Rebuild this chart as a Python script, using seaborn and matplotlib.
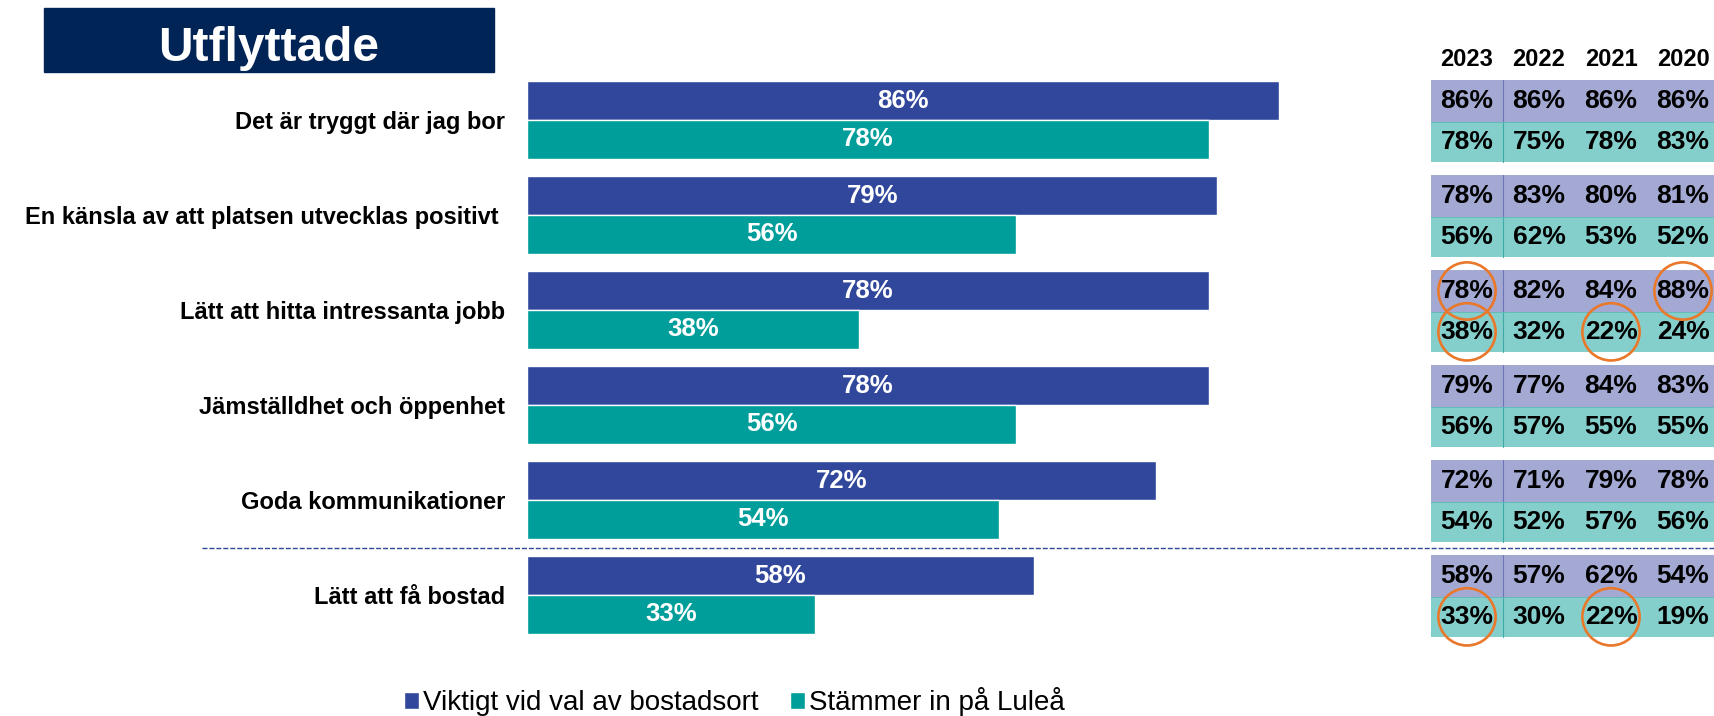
import pandas as pd
import matplotlib.pyplot as plt
import seaborn as sns

categories = [
    "Det är tryggt där jag bor",
    "En känsla av att platsen utvecklas positivt ",
    "Lätt att hitta intressanta jobb",
    "Jämställdhet och öppenhet",
    "Goda kommunikationer",
    "Lätt att få bostad",
]
series = ["Viktigt vid val av bostadsort", "Stämmer in på Luleå"]
viktigt = [86, 79, 78, 78, 72, 58]
stammer = [78, 56, 38, 56, 54, 33]

years = ["2023", "2022", "2021", "2020"]
# table: one list per year, 6 groups
tab_viktigt = {
    "2023": [86, 78, 78, 79, 72, 58],
    "2022": [86, 83, 82, 77, 71, 57],
    "2021": [86, 80, 84, 84, 79, 62],
    "2020": [86, 81, 88, 83, 78, 54],
}
tab_stammer = {
    "2023": [78, 56, 38, 56, 54, 33],
    "2022": [75, 62, 32, 57, 52, 30],
    "2021": [78, 53, 22, 55, 57, 22],
    "2020": [83, 52, 24, 55, 56, 19],
}
# circled cells: (group, series index, year)
circled = [(2, 0, "2023"), (2, 0, "2020"), (2, 1, "2023"), (2, 1, "2021"),
           (5, 1, "2023"), (5, 1, "2021")]

blue = "#31479C"
teal = "#009E9A"
navy = "#002456"
blue_light = "#A3A9D3"
teal_light = "#84CFCC"
orange = "#E9782A"

sns.set_style("white")
plt.rcParams["font.family"] = ["Liberation Sans", "DejaVu Sans"]
plt.rcParams["text.color"] = "black"
plt.rcParams["ytick.labelcolor"] = "black"

W, H = 1715, 716
fig = plt.figure(figsize=(W / 100, H / 100), dpi=100)

df = pd.DataFrame({
    "Kategori": categories * 2,
    "Serie": [series[0]] * 6 + [series[1]] * 6,
    "Andel": viktigt + stammer,
})

# y data coords: group i centred at pixel 120 + 95*i
y_top = (0 - 120) / 95
y_bot = (H - 120) / 95

ax = fig.add_axes([527 / W, 0, 874 / W, 1])
sns.barplot(data=df, y="Kategori", x="Andel", hue="Serie", orient="h",
            palette=[blue, teal], width=0.82, saturation=1, ax=ax)
ax.set_xlim(0, 100)
ax.set_ylim(y_bot, y_top)
ax.set_xlabel("")
ax.set_ylabel("")
ax.set_xticks([])
ax.set_yticks(range(len(categories)))
ax.set_yticklabels(categories, fontsize=17, fontweight="bold", color="black")
ax.tick_params(axis="y", length=0, pad=15.8)
sns.despine(ax=ax, left=True, bottom=True)

for cont, vals in zip(ax.containers, [viktigt, stammer]):
    ax.bar_label(cont, labels=[f"{v}%" for v in vals], label_type="center",
                 color="white", fontsize=18.5, fontweight="bold")

handles, labels = ax.get_legend_handles_labels()
ax.get_legend().remove()

# dashed separator before the last group
ax.plot([(202 - 527) / 8.74, (W - 527) / 8.74], [4.5, 4.5], color=blue,
        lw=1.0, ls=(0, (3.6, 1.4)), clip_on=False)

# title box
fig.patches.append(plt.Rectangle((44 / W, 1 - 72 / H), 450 / W, 64 / H,
                                 transform=fig.transFigure, color=navy))
fig.text(269 / W, 1 - 61 / H, "Utflyttade", color="white", fontsize=34.5,
         fontweight="bold", ha="center", va="baseline")

# table of yearly values
ax2 = fig.add_axes([1431 / W, 0, 288 / W, 1])
ax2.set_xlim(0, 4)
ax2.set_ylim(y_bot, y_top)
ax2.axis("off")
groups = range(len(categories))
for j, yr in enumerate(years):
    ax2.barh([g - 0.2 for g in groups], 1, left=j, height=0.44,
             color=blue_light, linewidth=0)
    ax2.barh([g + 0.23 for g in groups], 1, left=j, height=0.42,
             color=teal_light, linewidth=0)
    ax2.text(j + 0.5, (60 - 120) / 95, yr, ha="center", va="center",
             fontsize=17, fontweight="bold")
    for g in groups:
        ax2.text(j + 0.5, g - 0.2, f"{tab_viktigt[yr][g]}%", ha="center",
                 va="center", fontsize=19, fontweight="bold")
        ax2.text(j + 0.5, g + 0.23, f"{tab_stammer[yr][g]}%", ha="center",
                 va="center", fontsize=19, fontweight="bold")
for g in groups:
    ax2.plot([1, 1], [g - 0.42, g + 0.02], color="#6B75B8", lw=0.8)
    ax2.plot([1, 1], [g + 0.02, g + 0.44], color="#3FA9A6", lw=0.8)
    ax2.plot([0, 4], [g + 0.02, g + 0.02], color="#5FB8B6", lw=0.6)

cx = [years.index(c[2]) + 0.5 for c in circled]
cy = [c[0] - 0.2 if c[1] == 0 else c[0] + 0.23 for c in circled]
ax2.scatter(cx, cy, s=1700, facecolors="none", edgecolors=orange,
            linewidths=1.9, clip_on=False, zorder=5)

fig.legend(handles, labels, loc="center left",
           bbox_to_anchor=(404 / W, 1 - 702 / H), ncol=2, frameon=False,
           prop={"size": 20},
           handlelength=0.55, handleheight=0.55, handletextpad=0.15,
           columnspacing=1.1, borderpad=0, borderaxespad=0)

fig.savefig("out.png", dpi=100)
